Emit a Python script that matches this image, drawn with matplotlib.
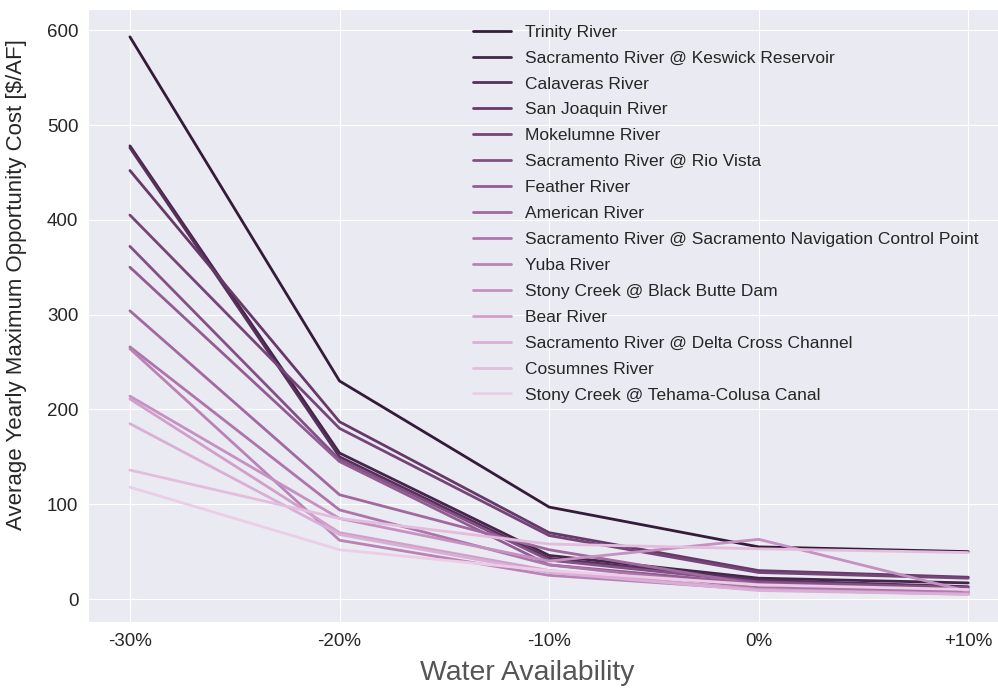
import numpy as np
import matplotlib
matplotlib.use("Agg")
import matplotlib.pyplot as plt
import seaborn as sns

# water availability scenarios
scenarios = ["-30%", "-20%", "-10%", "0%", "+10%"]

rivers = [
    "Trinity River",
    "Sacramento River @ Keswick Reservoir",
    "Calaveras River",
    "San Joaquin River",
    "Mokelumne River",
    "Sacramento River @ Rio Vista",
    "Feather River",
    "American River",
    "Sacramento River @ Sacramento Navigation Control Point",
    "Yuba River",
    "Stony Creek @ Black Butte Dam",
    "Bear River",
    "Sacramento River @ Delta Cross Channel",
    "Cosumnes River",
    "Stony Creek @ Tehama-Colusa Canal",
]

# average yearly max opportunity cost [$/AF], one list per river
trinity = [593, 230, 97, 55, 50]
keswick = [478, 154, 46, 22, 17]
calaveras = [476, 150, 43, 20, 13]
san_joaquin = [452, 187, 70, 30, 23]
mokelumne = [405, 180, 67, 28, 22]
rio_vista = [372, 147, 41, 18, 12]
feather = [350, 145, 36, 16, 10]
american = [304, 110, 52, 15, 8]
sac_nav = [266, 94, 36, 12, 7]
yuba = [264, 62, 25, 10, 6]
black_butte = [214, 85, 40, 63, 8]
bear = [211, 70, 30, 10, 5]
delta_cross = [185, 68, 28, 9, 5]
cosumnes = [136, 85, 58, 53, 49]
tehama = [118, 52, 30, 15, 10]

series = [trinity, keswick, calaveras, san_joaquin, mokelumne, rio_vista,
          feather, american, sac_nav, yuba, black_butte, bear, delta_cross,
          cosumnes, tehama]

sns.set_style("darkgrid")
plt.rcParams['font.family'] = ['Liberation Sans', 'DejaVu Sans']

colors = sns.cubehelix_palette(len(rivers), start=0.33, rot=0.06,
                               light=0.85, dark=0.15, reverse=True)

fig = plt.figure(figsize=(9.98, 6.89), dpi=100)
ax = fig.add_axes([0.0882, 0.097, 0.924, 0.89])

x = np.arange(len(scenarios))
for name, vals, c in zip(rivers, series, colors):
    ax.plot(x, vals, color=c, lw=2, label=name)

ax.set_xticks(x)
ax.set_xticklabels(scenarios, fontsize=13.5)
ax.tick_params(axis='y', labelsize=13.5)
ax.tick_params(axis='x', pad=4)
ax.set_yticks([0, 100, 200, 300, 400, 500, 600])

ax.set_ylabel("Average Yearly Maximum Opportunity Cost [$/AF]", fontsize=16)
ax.yaxis.set_label_coords(-0.066, 0.55)
ax.set_xlabel("Water Availability", fontsize=20.4, color='#555555')
ax.xaxis.set_label_coords(0.476, -0.062)

ax.legend(loc='upper left', bbox_to_anchor=(0.4, 1.0), frameon=False,
          fontsize=12.5, handlelength=2.2, labelspacing=0.62)

fig.savefig("out.png", dpi=100)
